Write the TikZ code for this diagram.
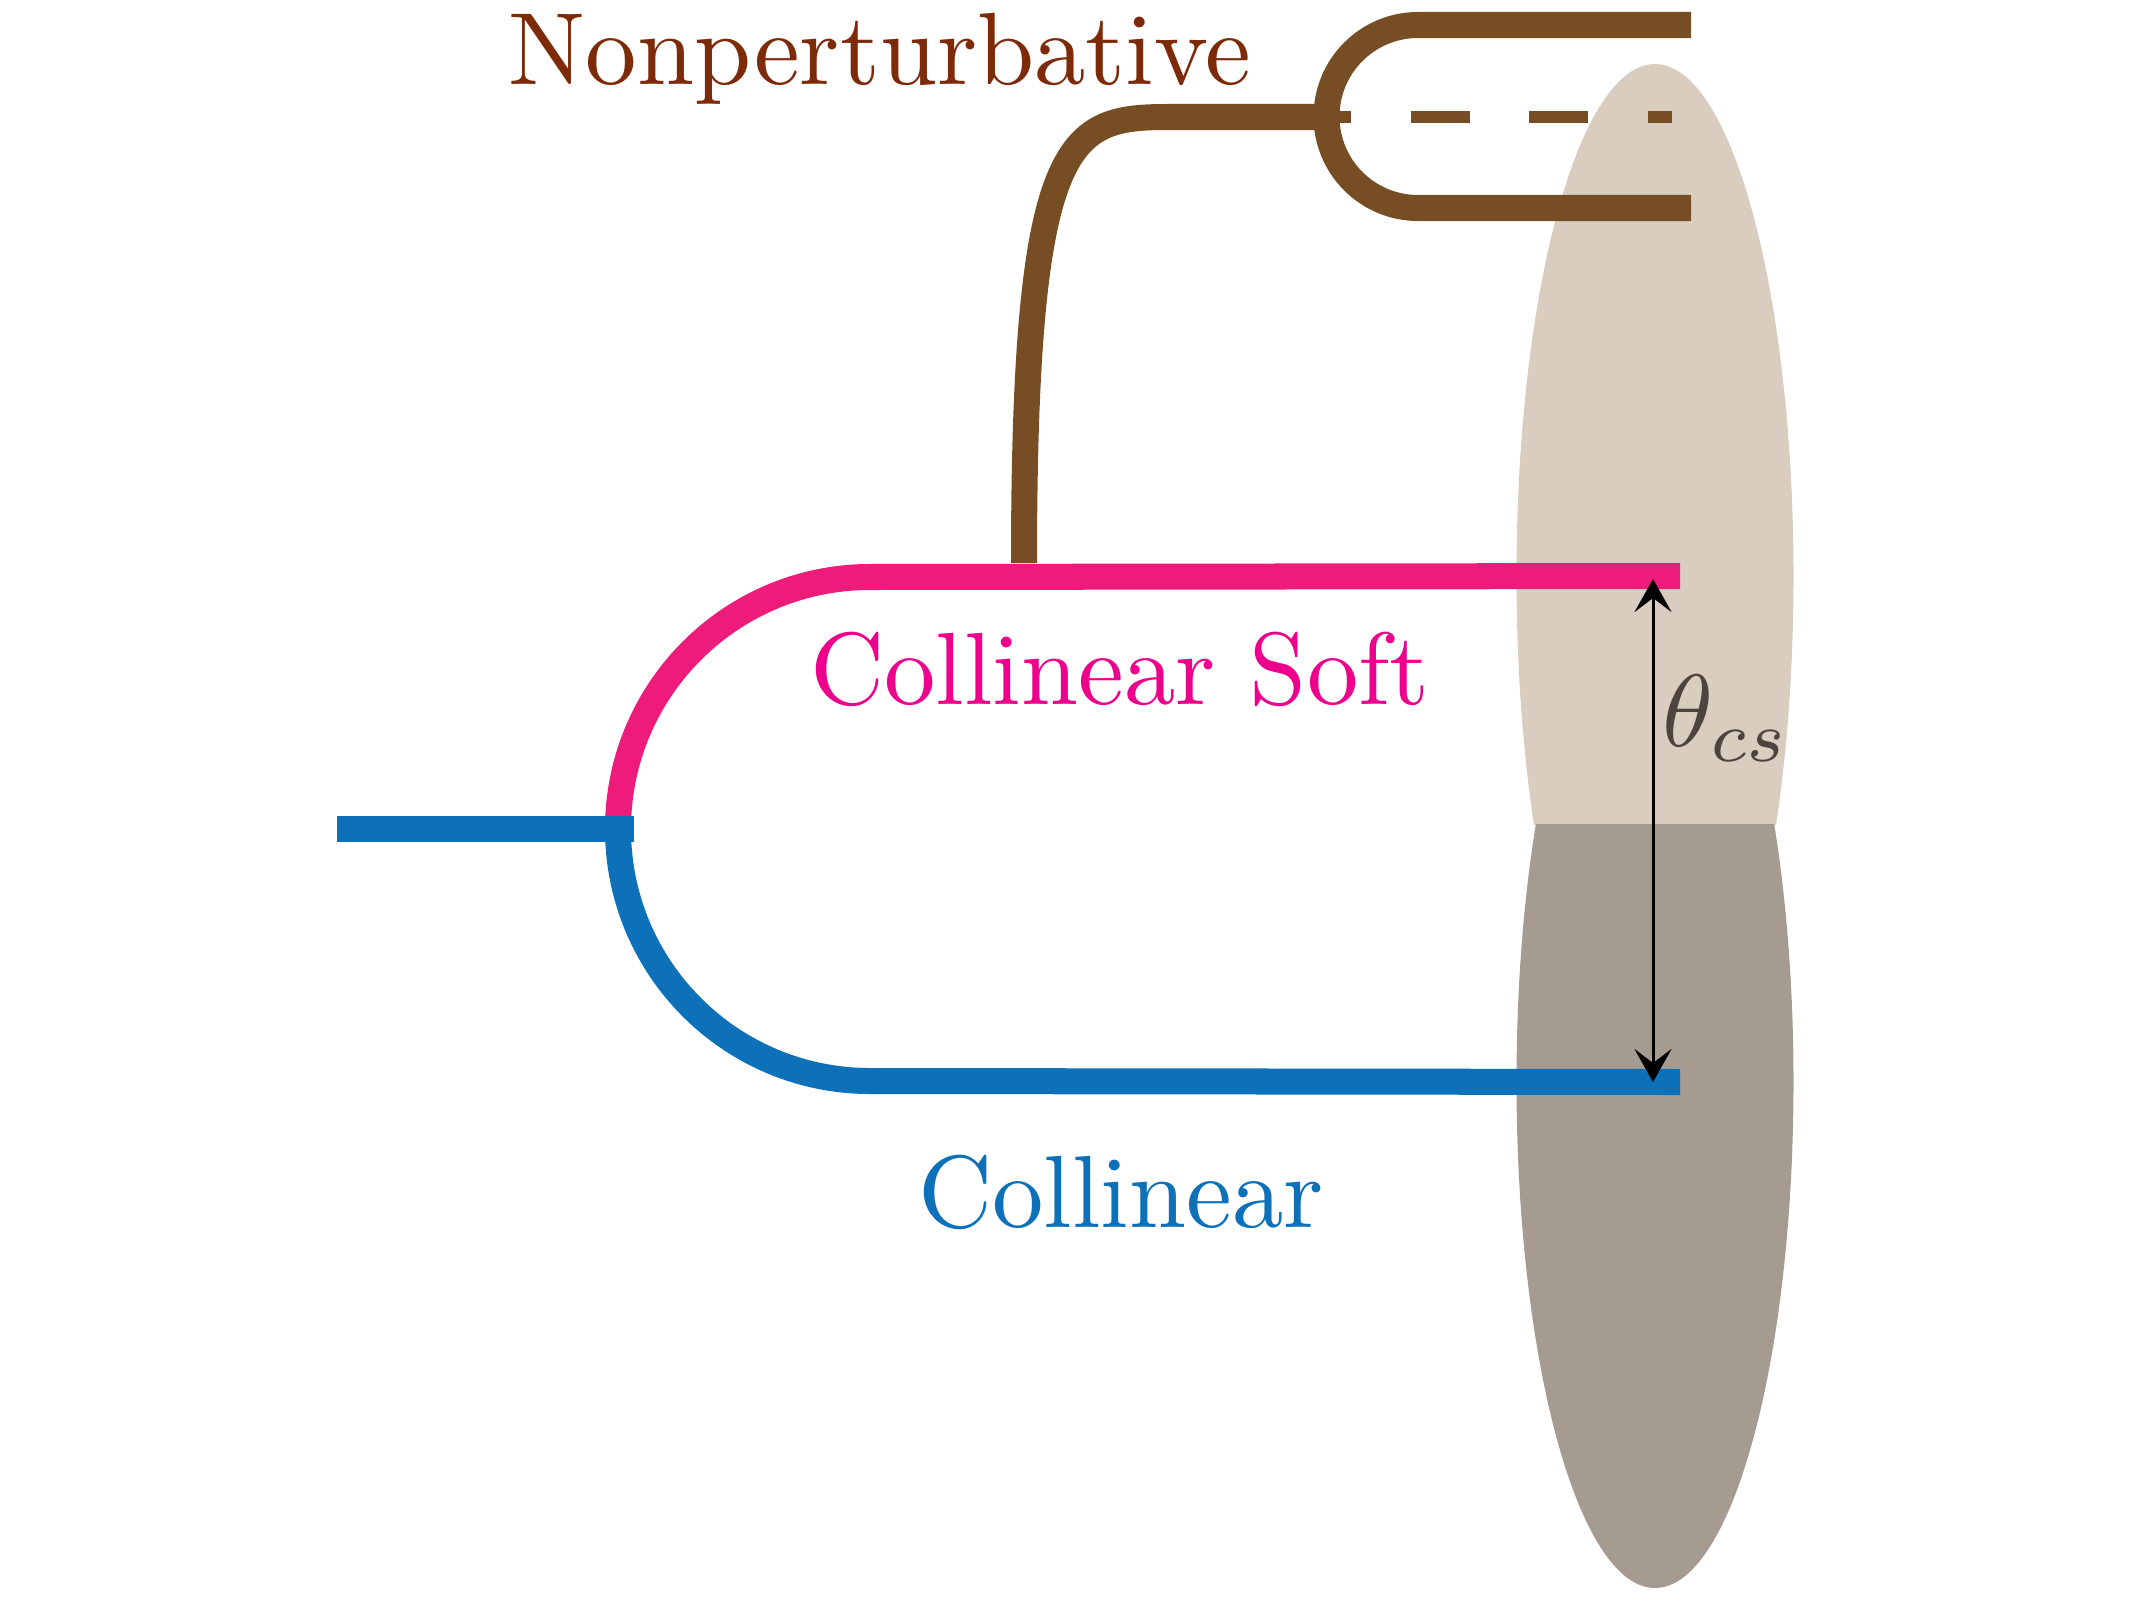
\documentclass[tikz,border=0pt]{standalone}
\usetikzlibrary{arrows.meta}
\definecolor{brownline}{RGB}{119,78,36}
\definecolor{browntext}{RGB}{125,42,8}
\definecolor{pinkline}{RGB}{237,28,123}
\definecolor{pinktext}{RGB}{236,0,140}
\definecolor{blueline}{RGB}{12,113,185}
\definecolor{lightell}{RGB}{217,205,192}
\definecolor{darkell}{RGB}{166,155,145}
\definecolor{thetacol}{RGB}{77,68,62}
\begin{document}
\begin{tikzpicture}[x=0.01cm,y=-0.01cm,
  fatline/.style={line width=0.26cm},
  lbl/.style={inner sep=0pt, font=\fontsize{10}{12}\selectfont, scale=2.92, anchor=base},
  dim/.style={line width=0.03cm, black, {Stealth[length=0.33cm,width=0.37cm,inset=0.14cm]}-{Stealth[length=0.33cm,width=0.37cm,inset=0.14cm]}}]
\useasboundingbox (0,0) rectangle (2134,1600);
% shaded ellipses
\begin{scope}
  \clip (1400,0) rectangle (1900,824);
  \fill[lightell] (1655,576) ellipse [x radius=138.5, y radius=512];
\end{scope}
\begin{scope}
  \clip (1400,824) rectangle (1900,1600);
  \fill[darkell] (1655,1082) ellipse [x radius=138.5, y radius=506];
\end{scope}
% coordinates
\coordinate (split) at (618,829);
\coordinate (stub) at (337,829);
\coordinate (stubend) at (634,829);
\coordinate (csend) at (1680,576);
\coordinate (cend) at (1680,1082);
\coordinate (npfoot) at (1024,563);
\coordinate (npknee) at (1170,117);
\coordinate (npjoin) at (1327,117);
\coordinate (dashA) at (1292,117);
\coordinate (dashB) at (1672,117);
\coordinate (ctop) at (1691,25);
\coordinate (ctopL) at (1418,25);
\coordinate (cbot) at (1691,208);
% collinear-soft (pink)
\draw[fatline, pinkline] (split) arc[start angle=180, end angle=270, radius=252] -- (csend);
% collinear (blue)
\draw[fatline, blueline] (split) arc[start angle=180, end angle=90, radius=252] -- (cend);
\draw[fatline, blueline] (stub) -- (stubend);
% nonperturbative (brown)
\draw[fatline, brownline] (npfoot) .. controls (1024,130) and (1070,117) .. (npknee) -- (npjoin);
\draw[line width=0.11cm, brownline, dash pattern=on 0.59cm off 0.595cm] (dashA) -- (dashB);
\draw[fatline, brownline] (ctop) -- (ctopL) arc[start angle=270, end angle=90, radius=91.5] -- (cbot);
% angle arrow
\coordinate (arU) at (1653,579);
\coordinate (arD) at (1653,1082);
\draw[dim] (arD) -- (arU);
% labels
\node[lbl, text=browntext] (np) at (880,85) {Nonperturbative};
\node[lbl, text=pinktext] (cs) at (1120,704) {Collinear Soft};
\node[lbl, text=blueline] (col) at (1121,1227) {Collinear};
\node[lbl, anchor=base west, text=thetacol] (th) at (1660,746) {$\theta_{cs}$};
\end{tikzpicture}
\end{document}
